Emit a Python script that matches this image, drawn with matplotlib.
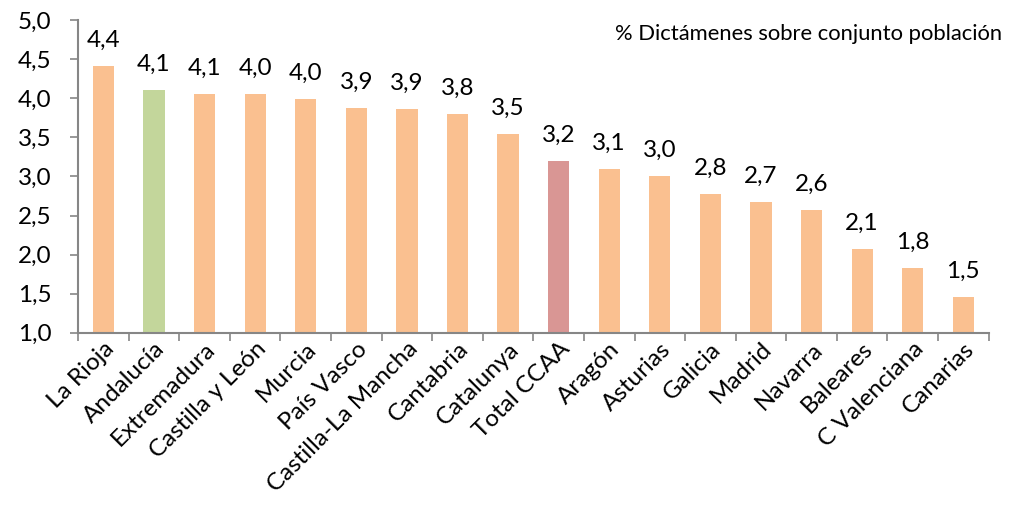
import matplotlib
matplotlib.use("Agg")
import matplotlib.pyplot as plt
import numpy as np

categories = ["La Rioja", "Andalucía", "Extremadura", "Castilla y León", "Murcia",
              "País Vasco", "Castilla-La Mancha", "Cantabria", "Catalunya", "Total CCAA",
              "Aragón", "Asturias", "Galicia", "Madrid", "Navarra", "Baleares",
              "C Valenciana", "Canarias"]
values = [4.41, 4.10, 4.05, 4.05, 3.99, 3.87, 3.86, 3.80, 3.54, 3.20,
          3.10, 3.00, 2.78, 2.67, 2.57, 2.07, 1.83, 1.46]
labels = ["4,4", "4,1", "4,1", "4,0", "4,0", "3,9", "3,9", "3,8", "3,5", "3,2",
          "3,1", "3,0", "2,8", "2,7", "2,6", "2,1", "1,8", "1,5"]
yticks = [1.0, 1.5, 2.0, 2.5, 3.0, 3.5, 4.0, 4.5, 5.0]
ytick_labels = ["1,0", "1,5", "2,0", "2,5", "3,0", "3,5", "4,0", "4,5", "5,0"]
note = "% Dictámenes sobre conjunto población"

ORANGE = "#FAC090"
GREEN = "#C3D69B"
RED = "#D99694"
colors = [ORANGE] * len(categories)
colors[categories.index("Andalucía")] = GREEN
colors[categories.index("Total CCAA")] = RED

plt.rcParams['font.family'] = ['Lato', 'DejaVu Sans']

fig = plt.figure(figsize=(10.14, 5.16), dpi=100)
ax = fig.add_axes([0.077, 0.355, 0.898, 0.606])

x = np.arange(len(categories))
bars = ax.bar(x, values, width=0.42, color=colors, bottom=0)

ax.set_ylim(1.0, 5.0)
ax.set_xlim(-0.5, len(categories) - 0.5)
ax.set_yticks(yticks)
ax.set_yticklabels(ytick_labels, fontsize=17.5)
ax.set_xticks(x)
ax.set_xticklabels(categories, rotation=45, ha='right', rotation_mode='anchor', fontsize=17.5)
ax.set_xticks(np.arange(-0.5, len(categories)), minor=True)
ax.tick_params(axis='x', which='major', length=0, pad=4)
ax.tick_params(axis='x', which='minor', length=6, width=1.2, color='#868686')
ax.tick_params(axis='y', length=6, width=1.2, color='#868686', pad=13)

for s in ['top', 'right']:
    ax.spines[s].set_visible(False)
for s in ['left', 'bottom']:
    ax.spines[s].set_color('#868686')
    ax.spines[s].set_linewidth(1.5)

for xi, v, lab in zip(x, values, labels):
    ax.annotate(lab, (xi, v), xytext=(0, 11), textcoords='offset points',
                ha='center', va='bottom', fontsize=17.5)

fig.text(0.988, 0.935, note, ha='right', va='center', fontsize=15.8)

fig.savefig("out.png", dpi=100)
